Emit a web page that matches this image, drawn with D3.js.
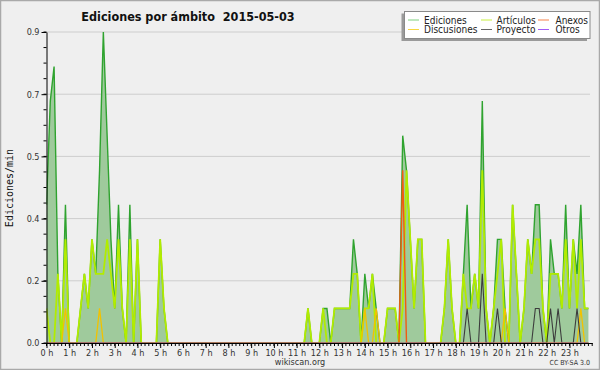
<!DOCTYPE html>
<html><head><meta charset="utf-8">
<script src="https://cdn.jsdelivr.net/npm/d3@7/dist/d3.min.js"></script>
<style>
html,body{margin:0;padding:0;background:#fff;}
svg{display:block;}
</style></head><body>
<script>
// ---- data (edits per minute, 10-minute steps, 144 points) ----
const hourLabels = d3.range(24).map(h => h + " h");
const yTickValues = [0, 0.18, 0.36, 0.54, 0.72, 0.9];
const yTickLabels = ["0.0", "0.2", "0.4", "0.5", "0.7", "0.9"];
const seriesNames = ["Ediciones", "Artículos", "Anexos", "Discusiones", "Proyecto", "Otros"];

const ediciones = [
 .4,.7,.8,.2,0,.4,   0,0,0,.1,.2,.1,   .3,.2,.5,.9,.6,.3,  .1,.4,.1,0,.4,0,
 .3,0,0,0,0,0,       .3,.1,0,0,0,0,    0,0,0,0,0,0,        0,0,0,0,0,0,
 0,0,0,0,0,0,        0,0,0,0,0,0,      0,0,0,0,0,0,        0,0,0,.1,0,0,
 0,.1,.1,0,.1,.1,    .1,.1,.1,.3,.2,0, .2,.1,.2,.1,0,0,    .1,.1,.1,0,.6,.5,
 .3,.1,.3,.3,0,0,    0,0,0,.1,.3,.1,   0,0,.2,.4,.1,.2,    .1,.7,.1,0,.1,.3,
 .3,.1,0,.4,.2,0,    .1,.3,.2,.4,.4,.1, 0,.3,.2,.2,.1,.4,  .1,.3,.2,.4,.1,.1
];
const articulos = [
 .1,0,0,.2,0,.3,     0,0,0,.1,.2,.1,   .3,.2,.2,.2,.3,.2,  .1,.3,.1,0,.3,0,
 .3,0,0,0,0,0,       .3,.1,0,0,0,0,    0,0,0,0,0,0,        0,0,0,0,0,0,
 0,0,0,0,0,0,        0,0,0,0,0,0,      0,0,0,0,0,0,        0,0,0,.1,0,0,
 0,.1,0,0,.1,.1,     .1,.1,.1,.2,.2,0, .1,.1,.2,0,0,0,     .1,.1,.1,0,.1,.5,
 .3,.1,.3,.3,0,0,    0,0,0,.1,.3,.1,   0,0,.2,.1,.1,.2,    .1,.5,.1,0,.1,.2,
 .3,0,0,.4,.2,0,     .1,.3,.2,.3,.3,.1, 0,.2,.2,.2,.1,.3,  .1,.3,.1,.3,.1,.1
];
const anexos = [
 0,0,0,0,0,0, 0,0,0,0,0,0, 0,0,0,0,0,0, 0,0,0,0,0,0,
 0,0,0,0,0,0, 0,0,0,0,0,0, 0,0,0,0,0,0, 0,0,0,0,0,0,
 0,0,0,0,0,0, 0,0,0,0,0,0, 0,0,0,0,0,0, 0,0,0,0,0,0,
 0,0,0,0,0,0, 0,0,0,0,0,0, 0,0,0,0,0,0, 0,0,0,0,.5,0,
 0,0,0,0,0,0, 0,0,0,0,0,0, 0,0,0,0,0,0, 0,0,0,0,0,0,
 0,0,0,0,0,0, 0,0,0,0,0,0, 0,0,0,0,0,0, 0,0,0,0,0,0
];
const discusiones = [
 0,0,0,0,0,.1, 0,0,0,0,0,0, 0,0,.1,0,0,0, 0,0,0,0,0,0,
 0,0,0,0,0,0,  0,0,0,0,0,0, 0,0,0,0,0,0, 0,0,0,0,0,0,
 0,0,0,0,0,0,  0,0,0,0,0,0, 0,0,0,0,0,0, 0,0,0,0,0,0,
 0,0,0,0,0,0,  0,0,0,0,0,0, .1,0,0,.1,0,0, 0,0,0,0,0,0,
 0,0,0,0,0,0,  0,0,0,0,0,0, 0,0,0,0,0,0, 0,0,0,0,0,0,
 0,.1,0,0,0,0, 0,0,0,0,0,0, 0,0,0,0,0,0, 0,0,0,.1,0,0
];
const proyecto = [
 0,0,0,0,0,0, 0,0,0,0,0,0, 0,0,0,0,0,0, 0,0,0,0,0,0,
 0,0,0,0,0,0, 0,0,0,0,0,0, 0,0,0,0,0,0, 0,0,0,0,0,0,
 0,0,0,0,0,0, 0,0,0,0,0,0, 0,0,0,0,0,0, 0,0,0,0,0,0,
 0,0,0,0,0,0, 0,0,0,0,0,0, 0,0,0,0,0,0, 0,0,0,0,0,0,
 0,0,0,0,0,0, 0,0,0,0,0,0, 0,0,0,.1,0,0, 0,.2,0,0,0,.1,
 0,0,0,0,0,0, 0,0,0,.1,.1,0, 0,.1,0,.1,0,0, 0,0,.1,0,0,0
];
const otros = [
 0,0,0,0,0,0, 0,0,0,0,0,0, 0,0,0,0,0,0, 0,0,0,0,0,0,
 0,0,0,0,0,0, 0,0,0,0,0,0, 0,0,0,0,0,0, 0,0,0,0,0,0,
 0,0,0,0,0,0, 0,0,0,0,0,0, 0,0,0,0,0,0, 0,0,0,0,0,0,
 0,0,0,0,0,0, 0,0,0,0,0,0, 0,0,0,0,0,0, 0,0,0,0,0,0,
 0,0,0,0,0,0, 0,0,0,0,0,0, 0,0,0,0,0,0, 0,0,0,0,0,0,
 0,0,0,0,0,0, 0,0,0,0,0,0, 0,0,0,0,0,0, 0,0,0,0,0,0
];

// ---- layout ----
const W = 600, H = 370;
const FONT = "'DejaVu Sans Condensed','DejaVu Sans',sans-serif";
const plot = {left: 46.5, right: 592.2, top: 32, bottom: 343};

const svg = d3.select("body").append("svg").attr("width", W).attr("height", H);
svg.append("rect").attr("x", 0).attr("y", 0).attr("width", W).attr("height", H).attr("fill", "#efefef");
svg.append("rect").attr("x", 0.5).attr("y", 0.5).attr("width", W - 1).attr("height", H - 1)
  .attr("fill", "none").attr("stroke", "#a9a9a9").attr("stroke-width", 1.5);

const defs = svg.append("defs");
defs.append("clipPath").attr("id", "lineclip").append("rect")
  .attr("x", plot.left).attr("y", 0).attr("width", W - plot.left).attr("height", plot.bottom - 0.6);

const x = d3.scaleLinear().domain([0, 24]).range([plot.left, plot.right]);
const y = d3.scaleLinear().domain([0, 0.9]).range([plot.bottom, plot.top]);

// grid
svg.append("g").selectAll("line").data(yTickValues.slice(1)).join("line")
  .attr("x1", plot.left).attr("x2", 590).attr("y1", d => y(d)).attr("y2", d => y(d))
  .attr("stroke", "#cdcdcd").attr("stroke-width", 1);

const pts = arr => arr.map((v, i) => [i / 6, v]);
const line = d3.line().x(d => x(d[0])).y(d => y(d[1]));
const area = d3.area().x(d => x(d[0])).y0(y(0)).y1(d => y(d[1]));

svg.append("path").datum(pts(ediciones)).attr("d", area).attr("fill", "#9fca9c");

const lines = svg.append("g").attr("clip-path", "url(#lineclip)");
lines.append("path").datum(pts(ediciones)).attr("d", line).attr("fill", "none")
  .attr("stroke", "#2fa32f").attr("stroke-width", 1.4);
const layers = [
  {data: articulos, color: "#b2ec00", w: 1.8},
  {data: discusiones, color: "#f2c200", w: 1.3},
  {data: anexos, color: "#f25a10", w: 1.4},
  {data: proyecto, color: "#3c3c3c", w: 1.1},
  {data: otros, color: "#9a40f0", w: 1.1}
];
layers.forEach(l => {
  lines.append("path").datum(pts(l.data)).attr("d", line).attr("fill", "none")
    .attr("stroke", l.color).attr("stroke-width", l.w);
});

// y axis
const yAxis = d3.axisLeft(y).tickValues(yTickValues).tickFormat((d, i) => yTickLabels[i]).tickSize(5).tickSizeOuter(0);
const gy = svg.append("g").attr("transform", `translate(${plot.left},0)`).call(yAxis);
gy.selectAll("text").attr("font-family", FONT).attr("font-size", 9).attr("fill", "#333").attr("dx", 1);
gy.select(".domain").attr("stroke", "#000");
gy.selectAll(".tick line").attr("stroke", "#000");
const yMinor = d3.range(0, 0.9001, 0.045);
svg.append("g").selectAll("line").data(yMinor).join("line")
  .attr("x1", plot.left - 3).attr("x2", plot.left).attr("y1", d => y(d)).attr("y2", d => y(d))
  .attr("stroke", "#000");

// x axis
const xAxis = d3.axisBottom(x).tickValues(d3.range(0, 24)).tickFormat((d, i) => hourLabels[i]).tickSize(5).tickSizeOuter(0);
const gx = svg.append("g").attr("transform", `translate(0,${plot.bottom})`).call(xAxis);
gx.selectAll("text").attr("font-family", FONT).attr("font-size", 9).attr("fill", "#333").attr("dy", "0.55em");
gx.select(".domain").attr("stroke", "#000").attr("stroke-width", 1.2);
gx.selectAll(".tick line").attr("stroke", "#000");
svg.append("g").selectAll("line").data(d3.range(0, 145).map(i => i / 6)).join("line")
  .attr("x1", d => x(d)).attr("x2", d => x(d)).attr("y1", plot.bottom).attr("y2", plot.bottom + 3)
  .attr("stroke", "#000");

// titles
svg.append("text").attr("x", 188).attr("y", 21).attr("text-anchor", "middle")
  .attr("font-family", FONT).attr("font-weight", "bold").attr("font-size", 12.5).attr("fill", "#111")
  .style("white-space", "pre").text("Ediciones por ámbito  2015-05-03");
svg.append("text").attr("transform", "translate(13,188) rotate(-90)").attr("text-anchor", "middle")
  .attr("font-family", "'DejaVu Sans Mono',monospace").attr("font-size", 10).attr("fill", "#111")
  .text("Ediciones/min");
svg.append("text").attr("x", 300).attr("y", 365).attr("text-anchor", "middle")
  .attr("font-family", FONT).attr("font-size", 9).attr("fill", "#333").text("wikiscan.org");
svg.append("text").attr("x", 590).attr("y", 365).attr("text-anchor", "end")
  .attr("font-family", FONT).attr("font-size", 7).attr("fill", "#333").text("CC BY-SA 3.0");

// legend
const lg = svg.append("g");
lg.append("rect").attr("x", 401.5).attr("y", 13.5).attr("width", 185.5).attr("height", 27.5).attr("fill", "#9a9a9a");
lg.append("rect").attr("x", 404.5).attr("y", 11.5).attr("width", 185.5).attr("height", 27).attr("fill", "#fff").attr("stroke", "#8a8a8a");
const legendColors = ["#7fd07f", "#c8f040", "#f5824a", "#f7d640", "#666", "#a25cf5"];
const legendPos = [[408, 20], [481, 20], [538, 20], [408, 29.5], [481, 29.5], [538, 29.5]];
const legendTextX = [424, 496.5, 555.5];
seriesNames.forEach((n, i) => {
  const [lx, ly] = legendPos[i];
  lg.append("line").attr("x1", lx).attr("x2", lx + 11).attr("y1", ly).attr("y2", ly)
    .attr("stroke", legendColors[i]).attr("stroke-width", 1);
  lg.append("text").attr("x", legendTextX[i % 3]).attr("y", ly + 3.5)
    .attr("font-family", FONT).attr("font-size", 10).attr("fill", "#222").text(n);
});
</script>
</body></html>
